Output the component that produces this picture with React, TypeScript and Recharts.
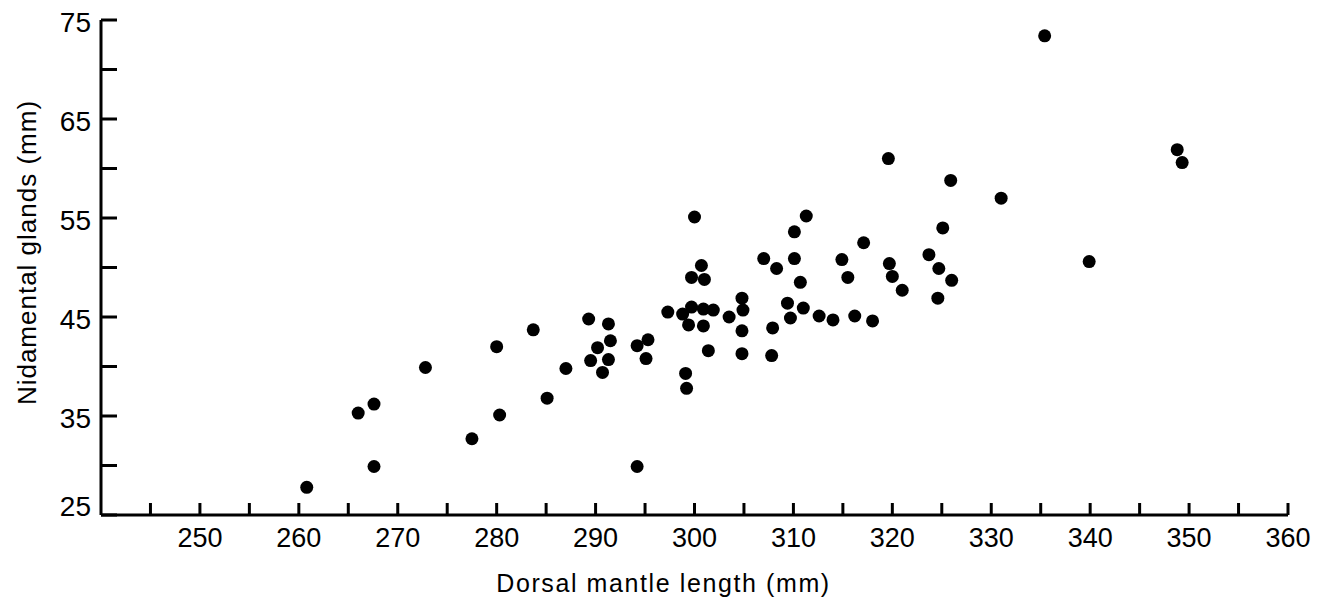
import React from "react";
import { ScatterChart, Scatter, XAxis, YAxis, Label } from "recharts";

// Dorsal mantle length (mm) vs nidamental gland length (mm)
const mantleLength = [
  260.8, 266.0, 267.6, 267.6, 272.8, 277.5, 280.3, 280.0, 283.7, 285.1,
  287.0, 289.3, 291.3, 291.5, 290.2, 289.5, 291.3, 290.7, 294.2, 295.3,
  295.1, 294.2, 297.3, 298.8, 299.7, 300.9, 301.9, 299.4, 300.9, 303.5,
  301.4, 299.1, 299.2, 300.0, 300.7, 299.7, 301.0, 304.8, 304.9, 304.8,
  304.8, 307.0, 308.3, 307.9, 307.8, 309.4, 311.0, 309.7, 310.1, 310.1,
  311.3, 310.7, 312.6, 314.0, 316.2, 318.0, 314.9, 315.5, 317.1, 319.6,
  319.7, 320.0, 321.0, 323.7, 324.7, 324.6, 325.1, 326.0, 325.9, 331.0,
  335.4, 339.9, 348.8, 349.3,
];

const glandLength = [
  27.8, 35.3, 36.2, 29.9, 39.9, 32.7, 35.1, 42.0, 43.7, 36.8,
  39.8, 44.8, 44.3, 42.6, 41.9, 40.6, 40.7, 39.4, 42.1, 42.7,
  40.8, 29.9, 45.5, 45.3, 46.0, 45.8, 45.7, 44.2, 44.1, 45.0,
  41.6, 39.3, 37.8, 55.1, 50.2, 49.0, 48.8, 46.9, 45.7, 43.6,
  41.3, 50.9, 49.9, 43.9, 41.1, 46.4, 45.9, 44.9, 50.9, 53.6,
  55.2, 48.5, 45.1, 44.7, 45.1, 44.6, 50.8, 49.0, 52.5, 61.0,
  50.4, 49.1, 47.7, 51.3, 49.9, 46.9, 54.0, 48.7, 58.8, 57.0,
  73.4, 50.6, 61.9, 60.6,
];

const xTicks = [245, 250, 255, 260, 265, 270, 275, 280, 285, 290, 295, 300, 305, 310, 315, 320, 325, 330, 335, 340, 345, 350, 355, 360];
const yTicks = [25, 30, 35, 40, 45, 50, 55, 60, 65, 70, 75];

const points = mantleLength.map((x, i) => ({ x, y: glandLength[i] }));

const FONT = '"Liberation Sans", Arial, Helvetica, sans-serif';

const XTick = (props: any) => {
  const { x, y, payload } = props;
  const v = payload.value;
  return (
    <g>
      <line x1={x} y1={y} x2={x} y2={y - 12} stroke="#000" strokeWidth={3} />
      {v % 10 === 0 && (
        <text x={x} y={y + 32} textAnchor="middle" fontSize={27} fontFamily={FONT} fill="#000">
          {v}
        </text>
      )}
    </g>
  );
};

const YTick = (props: any) => {
  const { x, y, payload } = props;
  const v = payload.value;
  return (
    <g>
      <line x1={x} y1={y} x2={x + 16} y2={y} stroke="#000" strokeWidth={3} />
      {v % 10 === 5 && (
        <text x={x - 10} y={v === 25 ? y + 1 : y + 12} textAnchor="end" fontSize={28} fontFamily={FONT} fill="#000">
          {v}
        </text>
      )}
    </g>
  );
};

const Dot = (props: any) => <circle cx={props.cx} cy={props.cy} r={6.5} fill="#000" />;

export default function App() {
  return (
    <div style={{ position: "absolute", left: 0, top: 0, background: "#fff" }}>
      <ScatterChart width={1330} height={599} margin={{ top: 20, right: 42, bottom: 0, left: 0 }}>
        <XAxis
          type="number"
          dataKey="x"
          domain={[240, 360]}
          ticks={xTicks}
          interval={0}
          height={84}
          tickSize={0}
          tickMargin={0}
          tickLine={false}
          axisLine={{ stroke: "#000", strokeWidth: 3 }}
          tick={<XTick />}
          allowDataOverflow
        >
          <Label
            content={(p: any) => {
              const vb = p.viewBox;
              return (
                <text
                  x={vb.x + vb.width / 2 - 31}
                  y={vb.y + 77}
                  textAnchor="middle"
                  fontSize={25}
                  letterSpacing={1.6}
                  fontFamily={FONT}
                  fill="#000"
                >
                  Dorsal mantle length (mm)
                </text>
              );
            }}
          />
        </XAxis>
        <YAxis
          type="number"
          dataKey="y"
          domain={[25, 75]}
          ticks={yTicks}
          interval={0}
          width={101}
          tickSize={0}
          tickMargin={0}
          tickLine={false}
          axisLine={{ stroke: "#000", strokeWidth: 3 }}
          tick={<YTick />}
          allowDataOverflow
        >
          <Label
            content={(p: any) => {
              const vb = p.viewBox;
              const cy = vb.y + vb.height / 2 - 15;
              return (
                <text
                  x={36}
                  y={cy}
                  transform={`rotate(-90, 36, ${cy})`}
                  textAnchor="middle"
                  fontSize={26}
                  letterSpacing={1}
                  fontFamily={FONT}
                  fill="#000"
                >
                  Nidamental glands (mm)
                </text>
              );
            }}
          />
        </YAxis>
        <Scatter data={points} shape={<Dot />} isAnimationActive={false} />
      </ScatterChart>
    </div>
  );
}
